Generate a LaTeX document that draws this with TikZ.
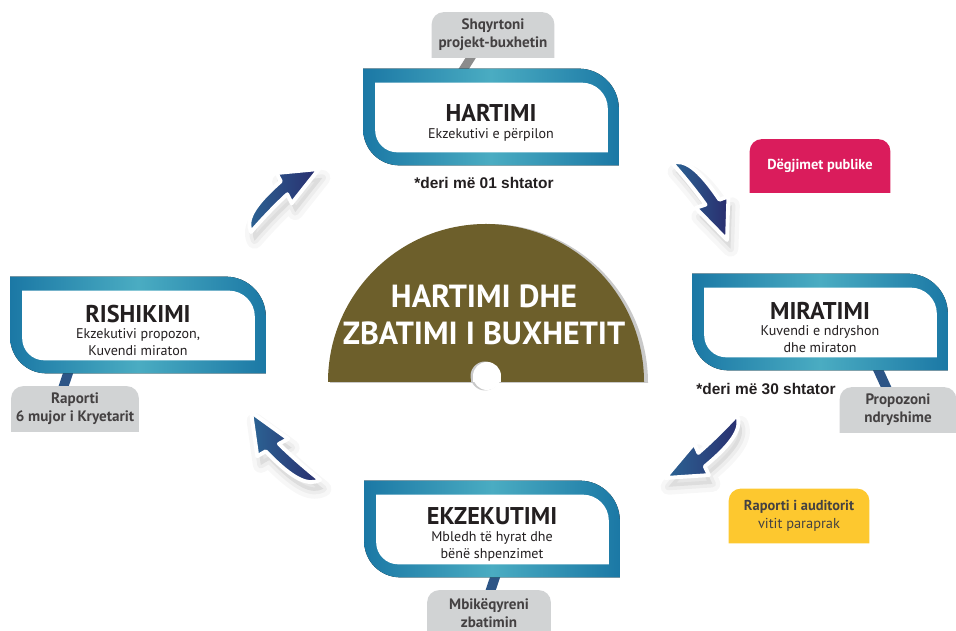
\documentclass[tikz,border=0pt]{standalone}
\usepackage{fontspec}
\setmainfont{PT Sans}
\newfontfamily\afatifont{Liberation Sans}
\usetikzlibrary{calc,backgrounds}

\definecolor{blu}{HTML}{1B78A5}
\definecolor{blucel}{HTML}{4AACC2}
\definecolor{ulliri}{HTML}{6D5F2B}
\definecolor{hije}{HTML}{C9C9C9}
\definecolor{gri}{HTML}{D1D3D4}
\definecolor{grierret}{HTML}{8C8C8C}
\definecolor{lidhje}{HTML}{2D5586}
\definecolor{roze}{HTML}{DA1C5C}
\definecolor{verdhe}{HTML}{FDC82F}
\definecolor{tekst}{HTML}{231F20}
\definecolor{shigjetaa}{HTML}{2B6494}
\definecolor{shigjetab}{HTML}{2A2D6E}

\newcommand{\titull}[1]{{\fontsize{13.8}{15}\selectfont\bfseries\rule{0pt}{16pt}#1}}

% trupi i shigjetes, bishti ne (0,0), maja ne (93,0)
\def\trupi{(0,0) .. controls (4,12) and (18,18) .. (56.5,17) -- (59,26) -- (93,0) -- (49.5,-6.7) -- (52.5,3) .. controls (33,3) and (14,1.5) .. cycle}

\newcommand{\shigjeta}[2]{%
  \pgfpointdiff{\pgfpointanchor{#1}{center}}{\pgfpointanchor{#2}{center}}%
  \pgfgetlastxy{\shdx}{\shdy}%
  \pgfmathsetmacro\kendi{atan2(\shdy,\shdx)}%
  \pgfmathsetmacro\shkalla{veclen(\shdx,\shdy)/52.92}%
  \fill[black, opacity=.03, draw=black, line width=9pt, line join=round, shift={(#1)}, xshift=2pt, yshift=-5pt, rotate=\kendi, scale=\shkalla] \trupi;
  \fill[black, opacity=.04, draw=black, line width=4pt, line join=round, shift={(#1)}, xshift=2pt, yshift=-5pt, rotate=\kendi, scale=\shkalla] \trupi;
  \draw[draw=white, line width=2.2pt, line join=round, left color=shigjetaa, right color=shigjetab, shift={(#1)}, rotate=\kendi, scale=\shkalla] \trupi;
}

\newcommand{\korniza}[1]{%
  \fill[left color=blu, right color=blu, middle color=blucel] (#1.north west) -- ($(#1.north east)+(-40,0)$) arc[start angle=90,end angle=0,radius=40] -- (#1.south east) -- ($(#1.south west)+(36,0)$) arc[start angle=270,end angle=180,radius=36] -- cycle;
  \fill[white] ($(#1.north west)+(12,-14)$) -- ($(#1.north east)+(-37,-14)$) arc[start angle=90,end angle=0,radius=26] -- ($(#1.south east)+(-11,13)$) -- ($(#1.south west)+(34,13)$) arc[start angle=270,end angle=180,radius=22] -- cycle;
}

\newcommand{\etiketabg}[2]{%
  \fill[#2] (#1.south west) -- ($(#1.north west)+(0,-12)$) arc[start angle=180,end angle=90,radius=12] -- ($(#1.north east)+(-12,0)$) arc[start angle=90,end angle=0,radius=12] -- (#1.south east) -- cycle;
}

\begin{document}
\begin{tikzpicture}[x=0.02cm, y=0.02cm,
    etapa/.style={minimum width=5.1cm, minimum height=1.92cm, inner sep=0pt, align=center, text=tekst, font=\fontsize{8}{9.6}\selectfont},
    etiketa/.style={minimum width=2.44cm, minimum height=0.9cm, inner sep=0pt, align=center, text=tekst!85, font=\fontsize{8.6}{10.2}\selectfont\bfseries},
    afati/.style={font=\afatifont\fontsize{8.8}{11}\selectfont\bfseries, text=tekst},
    lidhja/.style={line width=5.5pt, lidhje}
  ]
  \useasboundingbox (0,0) rectangle (956,631);

  % gjysmerrethi ne qender
  \fill[hije] (330,248) arc[start angle=180, end angle=0, radius=159] -- cycle;
  \fill[ulliri] (328,249) arc[start angle=180, end angle=0, radius=158] -- cycle;
  \fill[hije] (485,255) circle[radius=14.5];
  \fill[hije] (470.5,249) rectangle (499.5,255);
  \fill[white] (487,255) circle[radius=14];
  \fill[white] (473,249) rectangle (501,255);
  \node[font=\fontsize{18.2}{21}\selectfont\bfseries, text=white, align=center] (qendra) at (484,316) {HARTIMI DHE\\ZBATIMI I BUXHETIT};

  % etapat
  \node[etapa] (hartimi) at (491,514) {\titull{HARTIMI}\\Ekzekutivi e përpilon};
  \node[etapa] (miratimi) at (820,309) {\titull{MIRATIMI}\\Kuvendi e ndryshon\\dhe miraton};
  \node[etapa] (ekzekutimi) at (492,102) {\titull{EKZEKUTIMI}\\Mbledh të hyrat dhe\\bënë shpenzimet};
  \node[etapa] (rishikimi) at (138,306) {\titull{RISHIKIMI}\\Ekzekutivi propozon,\\Kuvendi miraton};

  \node[afati] (afati1) at (484,448) {*deri më 01 shtator};
  \node[afati] (afati2) at (766,242) {*deri më 30 shtator};

  % etiketat
  \node[etiketa] (shqyrto) at (493,596) {Shqyrtoni\\projekt-buxhetin};
  \node[etiketa, minimum width=2.32cm] (propozo) at (898,221) {Propozoni\\ndryshime};
  \node[etiketa, minimum width=2.46cm] (mbikeqyr) at (489,18) {Mbikëqyreni\\zbatimin};
  \node[etiketa, minimum width=2.54cm] (raporti) at (75,222) {Raporti\\6 mujor i Kryetarit};
  \node[etiketa, minimum width=2.8cm, minimum height=1.06cm, text=white, font=\fontsize{8.2}{10}\selectfont\bfseries] (degjimet) at (820,465) {Dëgjimet publike};
  \node[etiketa, minimum width=2.8cm, minimum height=1.08cm, font=\fontsize{8.2}{10}\selectfont] (auditori) at (799,115) {\textbf{Raporti i auditorit}\\vitit paraprak};

  \begin{pgfonlayer}{background}
    \draw[lidhja, grierret, line width=5pt] ($(shqyrto.south)+(-21,2)$) -- ($(hartimi.north)+(-29,-3)$);
    \draw[lidhja] ($(miratimi.south)+(57,3)$) -- ($(propozo.north)+(-11,-2)$);
    \draw[lidhja] ($(ekzekutimi.south)+(4,3)$) -- ($(mbikeqyr.north)+(1,-2)$);
    \draw[lidhja] ($(rishikimi.south)+(-69,3)$) -- ($(raporti.north)+(-12,-2)$);
    \etiketabg{shqyrto}{gri}
    \etiketabg{propozo}{gri}
    \etiketabg{mbikeqyr}{gri}
    \etiketabg{raporti}{gri}
    \etiketabg{degjimet}{roze}
    \etiketabg{auditori}{verdhe}
    \korniza{hartimi}
    \korniza{miratimi}
    \korniza{ekzekutimi}
    \korniza{rishikimi}
  \end{pgfonlayer}

  % shigjetat e ciklit
  \coordinate (s1a) at (251,399); \coordinate (s1b) at (319,462);
  \coordinate (s2a) at (672,468); \coordinate (s2b) at (727,391);
  \coordinate (s3a) at (737,216); \coordinate (s3b) at (665,153);
  \coordinate (s4a) at (320,151); \coordinate (s4b) at (251,219);
  \shigjeta{s1a}{s1b}
  \shigjeta{s2a}{s2b}
  \shigjeta{s3a}{s3b}
  \shigjeta{s4a}{s4b}
\end{tikzpicture}
\end{document}
